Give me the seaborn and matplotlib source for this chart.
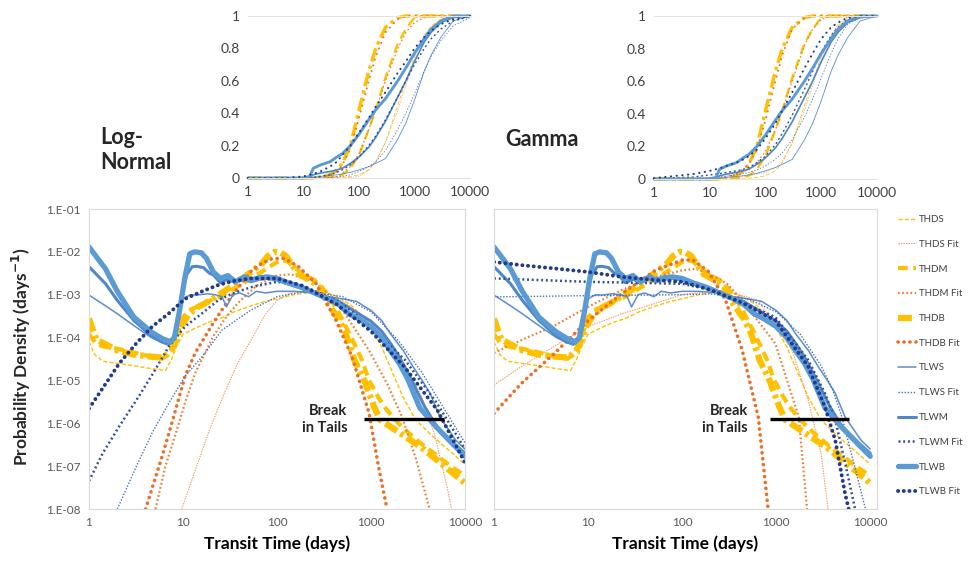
import numpy as np
import pandas as pd
import matplotlib
matplotlib.use("Agg")
import matplotlib.pyplot as plt
import seaborn as sns

sns.set_style("white")
plt.rcParams['font.family'] = ['Lato', 'DejaVu Sans']
plt.rcParams['lines.scale_dashes'] = False

# ---------------- data: probability density (empirical, shared) ----------------
thds_x = [1, 1.15, 1.4, 2, 3, 4.5, 6.5, 7.5, 8.5, 10, 13, 18, 25, 35, 53, 75, 100, 150, 250, 400, 600, 900, 1300, 1700, 2200, 3000, 4500, 7000, 10000]
thds_y = [8e-5, 4e-5, 2.8e-5, 2.5e-5, 2.2e-5, 1.9e-5, 1.7e-5, 3e-5, 6e-5, 1.2e-4, 1.6e-4, 2.2e-4, 2.8e-4, 4e-4, 5.5e-4, 7e-4, 8e-4, 1e-3, 1.15e-3, 1e-3, 6e-4, 2.5e-4, 6e-5, 1.5e-5, 4e-6, 1.2e-6, 5e-7, 2.2e-7, 1.1e-7]

thdm_x = [1, 1.2, 1.5, 2, 3, 4.5, 6, 7, 8, 9, 10, 12, 15, 20, 25, 35, 50, 70, 90, 110, 130, 160, 200, 250, 300, 360, 450, 540, 650, 800, 955, 1200, 1440, 1800, 2500, 3500, 5000, 7000, 10000]
thdm_y = [1.2e-4, 7e-5, 6e-5, 5.5e-5, 4.5e-5, 3.6e-5, 3.2e-5, 4e-5, 7e-5, 1.5e-4, 3e-4, 4.5e-4, 5.5e-4, 7.5e-4, 9e-4, 1.4e-3, 2.2e-3, 3.5e-3, 5e-3, 6.5e-3, 6e-3, 4e-3, 2.8e-3, 2.2e-3, 1.5e-3, 9e-4, 4e-4, 1.8e-4, 8e-5, 3e-5, 1e-5, 4e-6, 2.2e-6, 1.2e-6, 6e-7, 3.2e-7, 1.8e-7, 1e-7, 6e-8]

thdb_x = [1, 1.1, 1.2, 1.5, 2, 3, 4.5, 6.2, 7.5, 8.5, 9.5, 11.5, 14, 17, 25, 36, 53, 70, 80, 95, 110, 125, 140, 170, 200, 240, 280, 330, 400, 450, 540, 665, 850, 1080, 1250, 1600, 2300, 3400, 5000, 7500, 10000]
thdb_y = [2.8e-4, 1.5e-4, 9e-5, 7e-5, 5e-5, 4e-5, 3.6e-5, 3.4e-5, 5e-5, 9e-5, 1.8e-4, 3.5e-4, 5e-4, 6.2e-4, 1.05e-3, 1.8e-3, 3.4e-3, 5.5e-3, 8e-3, 1e-2, 9.5e-3, 8e-3, 5.5e-3, 3e-3, 2.5e-3, 2e-3, 1.5e-3, 7.4e-4, 4e-4, 2.8e-4, 1.25e-4, 3e-5, 1e-5, 2.4e-6, 1.2e-6, 8.4e-7, 4.9e-7, 2.8e-7, 1.4e-7, 6.8e-8, 4e-8]

tlws_x = [1, 1.5, 2, 3, 4.6, 6, 7, 8, 9, 10, 12, 14, 18, 22, 26, 29, 34, 40, 50, 60, 75, 100, 150, 250, 350, 500, 700, 1000, 1300, 1600, 2200, 2800, 3500, 4250, 5400, 8000, 10000]
tlws_y = [9.8e-4, 5.5e-4, 3.6e-4, 1.9e-4, 1.0e-4, 7.5e-5, 6.6e-5, 1.2e-4, 4e-4, 8e-4, 1e-3, 9.8e-4, 1.05e-3, 1e-3, 9e-4, 5.2e-4, 1e-3, 1.1e-3, 9e-4, 1.2e-3, 1.1e-3, 1.2e-3, 1.2e-3, 1.1e-3, 9e-4, 8e-4, 7e-4, 4.3e-4, 2.5e-4, 1.25e-4, 5e-5, 2.1e-5, 1e-5, 5e-6, 1.4e-6, 4e-7, 2.5e-7]

tlwm_x = [1, 1.5, 2, 3, 4.6, 6, 7.3, 8.2, 9, 10, 11, 12.5, 14, 16.5, 19, 21, 25, 30, 36, 45, 53, 65, 79, 100, 130, 180, 250, 350, 450, 580, 750, 1000, 1300, 1600, 2000, 2600, 3700, 5000, 7500, 10000]
tlwm_y = [4.5e-3, 1.8e-3, 7.4e-4, 2.5e-4, 1.1e-4, 8e-5, 7.3e-5, 1.1e-4, 3.5e-4, 1.3e-3, 3e-3, 4.5e-3, 4.6e-3, 4.3e-3, 3.2e-3, 2.9e-3, 1.9e-3, 2.3e-3, 1.9e-3, 2.4e-3, 2e-3, 2.3e-3, 2.4e-3, 2.2e-3, 1.8e-3, 1.45e-3, 1.1e-3, 8.5e-4, 7e-4, 5e-4, 3.5e-4, 2.4e-4, 1.4e-4, 7.5e-5, 3.5e-5, 1.2e-5, 2.5e-6, 8.5e-7, 3.5e-7, 2e-7]

tlwb_x = [1, 1.5, 2, 3, 4.6, 6, 7.3, 8.1, 9.2, 10.5, 11.8, 13.3, 15.7, 17.8, 21, 25, 30, 36, 45, 53, 65, 79, 100, 130, 180, 250, 350, 450, 580, 750, 1000, 1300, 1600, 2000, 2450, 3300, 5000, 7500, 10000]
tlwb_y = [1.3e-2, 4e-3, 1.2e-3, 3e-4, 1.35e-4, 9.5e-5, 8e-5, 1e-4, 4.3e-4, 2.6e-3, 9e-3, 1e-2, 9.5e-3, 7e-3, 3.4e-3, 2.4e-3, 2.8e-3, 2e-3, 2.6e-3, 2.2e-3, 2.5e-3, 2.6e-3, 2.4e-3, 1.9e-3, 1.5e-3, 1.1e-3, 8e-4, 6e-4, 3.6e-4, 2.7e-4, 1.8e-4, 1e-4, 5e-5, 2.5e-5, 1.1e-5, 2.3e-6, 8e-7, 3.2e-7, 1.7e-7]

# ---------------- data: log-normal fits (left) ----------------
ln_thds_x = [9.7, 14, 19.8, 27.5, 38, 53, 75, 100, 150, 250, 500, 1000, 2000, 3500, 4800, 6500, 7200]
ln_thds_y = [1e-8, 1e-7, 8.5e-7, 5e-6, 2.5e-5, 8.7e-5, 3.5e-4, 7.4e-4, 1.2e-3, 1.2e-3, 7e-4, 2.5e-4, 4e-5, 4e-6, 5e-7, 3e-8, 1e-8]
ln_thdm_x = [5.1, 6.5, 8.2, 10.5, 13.5, 21, 29, 40, 60, 100, 140, 250, 425, 955, 1500, 2140, 3000, 4200]
ln_thdm_y = [1e-8, 1e-7, 5e-7, 3e-6, 1.5e-5, 1.07e-4, 3.1e-4, 7e-4, 1.6e-3, 2.8e-3, 3e-3, 2e-3, 7.4e-4, 5e-5, 8e-6, 1.4e-6, 1.5e-7, 1e-8]
ln_thdb_x = [4.0, 6, 7.6, 10.5, 13.5, 21, 29, 40, 53, 70, 90, 120, 170, 262, 425, 630, 955, 1200, 1480]
ln_thdb_y = [1e-8, 1.7e-7, 1e-6, 1.25e-5, 4.4e-5, 2.2e-4, 6.4e-4, 1.6e-3, 3.5e-3, 5.5e-3, 7e-3, 7e-3, 4.5e-3, 1.8e-3, 2.5e-4, 3.5e-5, 1.7e-6, 1e-7, 1e-8]
ln_tlws_x = [2.0, 3.2, 4.7, 7.1, 10.5, 16, 26, 53, 100, 200, 500, 1000, 2000, 3500, 5500, 10000]
ln_tlws_y = [1e-8, 1e-7, 6e-7, 3e-6, 1.25e-5, 3.6e-5, 1.5e-4, 4.4e-4, 9e-4, 1.2e-3, 9e-4, 4e-4, 8e-5, 1.5e-5, 3e-6, 3.5e-7]
ln_tlwm_x = [1, 1.4, 2.1, 3.2, 4.7, 7.1, 10.5, 16, 24, 35, 53, 100, 190, 450, 1000, 2300, 5000, 10000]
ln_tlwm_y = [4.5e-8, 2e-7, 8.5e-7, 3.5e-6, 1.35e-5, 6.3e-5, 1.8e-4, 3.7e-4, 7.6e-4, 1.1e-3, 1.5e-3, 2e-3, 1.6e-3, 7e-4, 1.8e-4, 3e-5, 3e-6, 2.5e-7]
ln_tlwb_x = [1, 2.1, 3.2, 4.7, 7.1, 10.5, 16, 24, 35, 53, 100, 190, 430, 1000, 2300, 5100, 10000]
ln_tlwb_y = [2.2e-6, 2.5e-5, 7.4e-5, 1.8e-4, 3.7e-4, 8e-4, 1.2e-3, 1.7e-3, 2.1e-3, 2.4e-3, 2.4e-3, 1.6e-3, 6e-4, 1.4e-4, 2e-5, 2e-6, 1.2e-7]

# ---------------- data: gamma fits (right) ----------------
g_thds_x = [1, 1.95, 4.4, 10, 23, 52, 100, 200, 300, 645, 1480, 2190, 3000, 3560]
g_thds_y = [7.8e-6, 2.1e-5, 6.3e-5, 1.8e-4, 3.6e-4, 6.3e-4, 1e-3, 1.2e-3, 1.2e-3, 7.4e-4, 5e-5, 3.5e-6, 2e-7, 1e-8]
g_thdm_x = [1, 1.95, 4.4, 10, 23, 52, 100, 140, 200, 300, 435, 980, 1740, 2130]
g_thdm_y = [4.4e-5, 8.7e-5, 1.9e-4, 5.2e-4, 1.3e-3, 2.6e-3, 3.7e-3, 4e-3, 3e-3, 1.8e-3, 7.4e-4, 7.2e-5, 1.4e-6, 1e-8]
g_thdb_x = [1, 1.95, 4.4, 10, 23, 52, 100, 130, 190, 290, 435, 645, 820]
g_thdb_y = [1.7e-6, 8.5e-6, 4.3e-5, 2.5e-4, 1.07e-3, 3.7e-3, 6.4e-3, 6.5e-3, 3.5e-3, 7.4e-4, 5.1e-5, 1.4e-6, 1e-8]
g_tlws_x = [1, 10, 100, 200, 500, 1000, 1800, 3000, 4000, 5000, 6500, 8000, 8900]
g_tlws_y = [8.9e-4, 9.5e-4, 1e-3, 1.05e-3, 8e-4, 4e-4, 1.2e-4, 2.2e-5, 6e-6, 1.4e-6, 1.5e-7, 2.5e-8, 1e-8]
g_tlwm_x = [1, 10, 100, 200, 450, 980, 2190, 3300, 4250, 5500, 6900]
g_tlwm_y = [2.4e-3, 2e-3, 1.8e-3, 1.3e-3, 6.5e-4, 3e-4, 3e-5, 5e-6, 1.2e-6, 1e-7, 1e-8]
g_tlwb_x = [1, 1.95, 4.4, 10, 23, 52, 100, 200, 435, 980, 2190, 3300, 4250, 5400, 5900]
g_tlwb_y = [5.8e-3, 4.9e-3, 4.1e-3, 3.4e-3, 2.6e-3, 2.2e-3, 2e-3, 1.3e-3, 6.5e-4, 2.5e-4, 2.1e-5, 2.4e-6, 4e-7, 2.3e-8, 1e-8]

# ---------------- data: cumulative (insets) ----------------
cdf_x = [1, 5, 10, 13, 15, 20, 30, 40, 50, 70, 100, 150, 200, 300, 500, 700, 1000, 1500, 2000, 3000, 5000, 10000]
cdf_thds = [0, 0, 0, 0, 0, 0, 0, 0, 0.005, 0.01, 0.02, 0.05, 0.1, 0.22, 0.45, 0.6, 0.75, 0.88, 0.94, 0.98, 1, 1]
cdf_thdm = [0, 0, 0, 0, 0, 0, 0.005, 0.01, 0.02, 0.06, 0.14, 0.3, 0.42, 0.62, 0.83, 0.92, 0.99, 1, 1, 1, 1, 1]
cdf_thdb = [0, 0, 0, 0, 0, 0.005, 0.02, 0.05, 0.09, 0.2, 0.42, 0.66, 0.8, 0.93, 0.99, 1, 1, 1, 1, 1, 1, 1]
cdf_tlws = [0, 0, 0, 0, 0.005, 0.01, 0.015, 0.02, 0.025, 0.035, 0.05, 0.07, 0.09, 0.12, 0.24, 0.34, 0.48, 0.66, 0.76, 0.87, 0.97, 1]
cdf_tlwm = [0, 0, 0, 0.005, 0.02, 0.03, 0.04, 0.05, 0.06, 0.09, 0.13, 0.19, 0.25, 0.35, 0.5, 0.6, 0.72, 0.84, 0.9, 0.96, 0.99, 1]
cdf_tlwb = [0, 0, 0, 0.01, 0.06, 0.08, 0.10, 0.13, 0.15, 0.20, 0.27, 0.36, 0.42, 0.49, 0.60, 0.68, 0.77, 0.86, 0.92, 0.97, 1, 1]

cdf_ln_thds = [0, 0, 0, 0, 0, 0, 0, 0, 0, 0.003, 0.01, 0.05, 0.1, 0.22, 0.42, 0.57, 0.72, 0.86, 0.93, 0.98, 1, 1]
cdf_ln_thdm = [0, 0, 0, 0, 0, 0, 0.003, 0.01, 0.03, 0.07, 0.15, 0.3, 0.42, 0.6, 0.8, 0.9, 0.96, 0.99, 1, 1, 1, 1]
cdf_ln_thdb = [0, 0, 0, 0, 0, 0.002, 0.02, 0.04, 0.08, 0.18, 0.37, 0.6, 0.75, 0.9, 0.98, 1, 1, 1, 1, 1, 1, 1]
cdf_ln_tlws = [0, 0, 0, 0, 0, 0, 0.003, 0.006, 0.01, 0.02, 0.04, 0.07, 0.1, 0.17, 0.3, 0.4, 0.52, 0.66, 0.75, 0.85, 0.94, 0.99]
cdf_ln_tlwm = [0, 0, 0, 0.002, 0.004, 0.01, 0.02, 0.035, 0.05, 0.08, 0.13, 0.2, 0.26, 0.36, 0.5, 0.6, 0.7, 0.8, 0.86, 0.92, 0.97, 0.995]
cdf_ln_tlwb = [0, 0, 0.01, 0.02, 0.025, 0.04, 0.07, 0.1, 0.14, 0.2, 0.28, 0.37, 0.44, 0.53, 0.65, 0.72, 0.8, 0.87, 0.91, 0.95, 0.98, 1]

cdf_g_thds = [0, 0, 0.002, 0.003, 0.004, 0.006, 0.01, 0.015, 0.02, 0.03, 0.04, 0.07, 0.11, 0.22, 0.42, 0.57, 0.73, 0.88, 0.95, 0.99, 1, 1]
cdf_g_thdm = [0, 0.002, 0.005, 0.007, 0.008, 0.015, 0.03, 0.045, 0.06, 0.1, 0.17, 0.3, 0.42, 0.6, 0.82, 0.92, 0.98, 1, 1, 1, 1, 1]
cdf_g_thdb = [0, 0, 0.002, 0.004, 0.005, 0.01, 0.03, 0.06, 0.09, 0.18, 0.36, 0.6, 0.76, 0.92, 0.99, 1, 1, 1, 1, 1, 1, 1]
cdf_g_tlws = [0.001, 0.005, 0.01, 0.012, 0.014, 0.018, 0.025, 0.032, 0.04, 0.055, 0.08, 0.12, 0.16, 0.24, 0.38, 0.49, 0.62, 0.77, 0.86, 0.95, 0.99, 1]
cdf_g_tlwm = [0.003, 0.012, 0.025, 0.03, 0.033, 0.04, 0.05, 0.06, 0.07, 0.1, 0.14, 0.21, 0.28, 0.39, 0.55, 0.66, 0.78, 0.88, 0.93, 0.98, 1, 1]
cdf_g_tlwb = [0.005, 0.03, 0.05, 0.06, 0.065, 0.08, 0.1, 0.12, 0.14, 0.18, 0.25, 0.34, 0.42, 0.53, 0.68, 0.77, 0.86, 0.93, 0.96, 0.99, 1, 1]

series_names = ["THDS", "THDS Fit", "THDM", "THDM Fit", "THDB", "THDB Fit",
                "TLWS", "TLWS Fit", "TLWM", "TLWM Fit", "TLWB", "TLWB Fit"]
x_ticks = [1, 10, 100, 1000, 10000]
y_ticks = [1e-1, 1e-2, 1e-3, 1e-4, 1e-5, 1e-6, 1e-7, 1e-8]
y_ticklabels = ["1.E-01", "1.E-02", "1.E-03", "1.E-04", "1.E-05", "1.E-06", "1.E-07", "1.E-08"]
cdf_ticks = [0, 0.2, 0.4, 0.6, 0.8, 1]
break_x = [850, 6000]
break_y = [1.25e-6, 1.25e-6]

# ---------------- styles ----------------
styles = {
    "THDS":     dict(color="#FFC000", lw=1.0, ls=(0, (3, 1.5))),
    "THDS Fit": dict(color="#F19A66", lw=0.8, ls=(0, (1, 0.8))),
    "THDM":     dict(color="#FFC000", lw=3.0, ls=(0, (7, 4))),
    "THDM Fit": dict(color="#ED7D31", lw=1.6, ls=(0, (1.2, 1.8))),
    "THDB":     dict(color="#FFC000", lw=4.5, ls=(0, (10, 3, 2.5, 3))),
    "THDB Fit": dict(color="#E8702A", lw=2.6, ls=(0, (0.1, 4.2)), dash_capstyle="round"),
    "TLWS":     dict(color="#5B8ED0", lw=1.1, ls="-"),
    "TLWS Fit": dict(color="#4472C4", lw=1.0, ls=(0, (1, 1.2))),
    "TLWM":     dict(color="#4F87C9", lw=2.2, ls="-"),
    "TLWM Fit": dict(color="#2F4F9F", lw=1.8, ls=(0, (1.4, 2.0))),
    "TLWB":     dict(color="#5B9BD5", lw=3.8, ls="-"),
    "TLWB Fit": dict(color="#1F3B8C", lw=2.8, ls=(0, (0.1, 4.0)), dash_capstyle="round"),
}

pdf_emp = {"THDS": (thds_x, thds_y), "THDM": (thdm_x, thdm_y), "THDB": (thdb_x, thdb_y),
           "TLWS": (tlws_x, tlws_y), "TLWM": (tlwm_x, tlwm_y), "TLWB": (tlwb_x, tlwb_y)}
pdf_ln = {"THDS Fit": (ln_thds_x, ln_thds_y), "THDM Fit": (ln_thdm_x, ln_thdm_y), "THDB Fit": (ln_thdb_x, ln_thdb_y),
          "TLWS Fit": (ln_tlws_x, ln_tlws_y), "TLWM Fit": (ln_tlwm_x, ln_tlwm_y), "TLWB Fit": (ln_tlwb_x, ln_tlwb_y)}
pdf_g = {"THDS Fit": (g_thds_x, g_thds_y), "THDM Fit": (g_thdm_x, g_thdm_y), "THDB Fit": (g_thdb_x, g_thdb_y),
         "TLWS Fit": (g_tlws_x, g_tlws_y), "TLWM Fit": (g_tlwm_x, g_tlwm_y), "TLWB Fit": (g_tlwb_x, g_tlwb_y)}
cdf_emp = {"THDS": cdf_thds, "THDM": cdf_thdm, "THDB": cdf_thdb, "TLWS": cdf_tlws, "TLWM": cdf_tlwm, "TLWB": cdf_tlwb}
cdf_ln = {"THDS Fit": cdf_ln_thds, "THDM Fit": cdf_ln_thdm, "THDB Fit": cdf_ln_thdb,
          "TLWS Fit": cdf_ln_tlws, "TLWM Fit": cdf_ln_tlwm, "TLWB Fit": cdf_ln_tlwb}
cdf_g = {"THDS Fit": cdf_g_thds, "THDM Fit": cdf_g_thdm, "THDB Fit": cdf_g_thdb,
         "TLWS Fit": cdf_g_tlws, "TLWM Fit": cdf_g_tlwm, "TLWB Fit": cdf_g_tlwb}

W, H = 969, 562
fig = plt.figure(figsize=(W / 100, H / 100), dpi=100)

def rect(x0, y0, x1, y1):
    return [x0 / W, 1 - y1 / H, (x1 - x0) / W, (y1 - y0) / H]

ax_l = fig.add_axes(rect(89, 209, 465, 509))
ax_r = fig.add_axes(rect(494, 209, 877, 509))
in_l = fig.add_axes(rect(248, 16, 470, 178))
in_r = fig.add_axes(rect(654, 16, 877, 179))

tick_col = "#595959"
spine_col = "#D9D9D9"

def line(ax, x, y, name, scale=1.0, clip=True):
    st = dict(styles[name])
    st["lw"] = st["lw"] * scale
    df = pd.DataFrame({"x": x, "y": y})
    sns.lineplot(data=df, x="x", y="y", ax=ax, estimator=None, sort=False,
                 legend=False, label=name, clip_on=clip, **st)

for ax, fits, xmax in [(ax_l, pdf_ln, 10000), (ax_r, pdf_g, 11800)]:
    ax.set_xscale("log")
    ax.set_yscale("log")
    for name in series_names:
        src = pdf_emp if name in pdf_emp else fits
        x, y = src[name]
        line(ax, x, y, name)
    ax.set_xlim(1, xmax)
    ax.set_ylim(1e-8, 1e-1)
    ax.set_xticks(x_ticks)
    ax.set_xticklabels([str(t) for t in x_ticks])
    ax.set_yticks(y_ticks)
    ax.minorticks_off()
    ax.set_xlabel("Transit Time (days)", fontsize=12.5, fontweight="bold", color="black", labelpad=5)
    ax.set_ylabel("")
    ax.tick_params(axis="both", direction="out", length=3, width=0.6, color="#BFBFBF",
                   labelsize=8.5, labelcolor=tick_col, pad=3)
    for s in ax.spines.values():
        s.set_color(spine_col)
        s.set_linewidth(0.8)
    ax.plot(break_x, break_y, color="black", lw=2.4, solid_capstyle="butt")

ax_l.set_yticklabels(y_ticklabels)
ax_r.set_yticklabels([])
ax_l.text(560, 1.22e-6, "Break\nin Tails", ha="right", va="center", fontsize=10.5,
          fontweight="bold", color="#262626", linespacing=1.25)
ax_r.text(500, 1.22e-6, "Break\nin Tails", ha="right", va="center", fontsize=10.5,
          fontweight="bold", color="#262626", linespacing=1.25)

fig.text(21 / W, 1 - 357 / H, "Probability Density (days$^{\\mathbf{-1}}$)", rotation=90,
         ha="center", va="center", fontsize=12.5, fontweight="bold")

for ax, fits in [(in_l, cdf_ln), (in_r, cdf_g)]:
    ax.set_xscale("log")
    for name in series_names:
        y = cdf_emp[name] if name in cdf_emp else fits[name]
        line(ax, cdf_x, y, name, scale=0.55, clip=False)
    ax.set_xlim(1, 10000)
    ax.set_ylim(0, 1)
    ax.set_xticks(x_ticks)
    ax.set_xticklabels([str(t) for t in x_ticks])
    ax.set_yticks(cdf_ticks)
    ax.set_yticklabels(["0", "0.2", "0.4", "0.6", "0.8", "1"])
    ax.minorticks_off()
    ax.set_xlabel("")
    ax.set_ylabel("")
    ax.tick_params(axis="both", length=0, labelsize=10, labelcolor="#404040", pad=6)
    ax.set_facecolor("none")
    for k, s in ax.spines.items():
        s.set_color("#E3E3E3")
        s.set_linewidth(0.8)
    ax.spines["left"].set_visible(False)
    ax.spines["right"].set_visible(False)

fig.text(100 / W, 1 - 150 / H, "Log-\nNormal", ha="left", va="center", fontsize=15.5,
         fontweight="bold", linespacing=1.25)
fig.text(505 / W, 1 - 140 / H, "Gamma", ha="left", va="center", fontsize=15.5, fontweight="bold")

handles, labels = ax_r.get_legend_handles_labels()
hl = dict(zip(labels, handles))
fig.legend([hl[n] for n in series_names], series_names, loc="upper left",
           bbox_to_anchor=(898 / W, 1 - 215 / H), bbox_transform=fig.transFigure,
           frameon=False, fontsize=7, handlelength=1.9, handletextpad=0.3,
           labelspacing=1.62, borderpad=0, borderaxespad=0, labelcolor="#404040")

fig.savefig("out.png", dpi=100)
